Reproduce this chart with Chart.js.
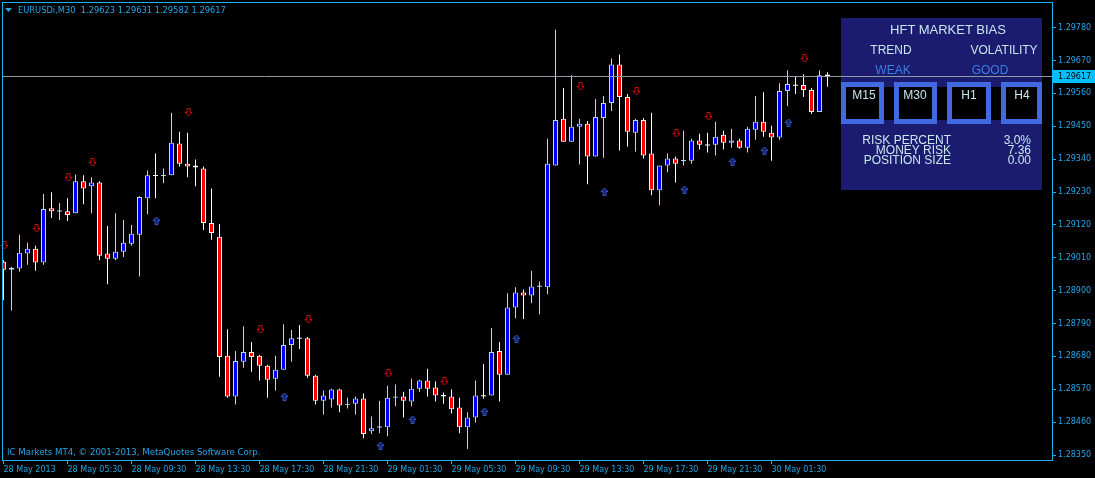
<!DOCTYPE html>
<html>
<head>
<meta charset="utf-8">
<script src="https://cdn.jsdelivr.net/npm/chart.js@4.4.0/dist/chart.umd.min.js"></script>
<style>
  html, body { margin: 0; padding: 0; background: #000; }
  #wrap { position: relative; width: 1095px; height: 478px; overflow: hidden; }
  .t { position: absolute; white-space: pre; line-height: 12px; }
  .mt { font-family: "DejaVu Sans", sans-serif; font-size: 8px; color: #27a5e6; }
  .pn { font-family: "Liberation Sans", Arial, sans-serif; font-size: 12px; color: #c8e6ee; }
  .c { text-align: center; width: 200px; }
  .r { text-align: right; width: 200px; }
</style>
</head>
<body>
<div id="wrap">
  <canvas id="myChart" width="1095" height="478"></canvas>
  <div class="t mt" style="left:18px;top:4px;font-size:8.3px;">EURUSDi,M30  1.29623 1.29631 1.29582 1.29617</div>
  <div class="t mt" style="left:7px;top:446px;font-size:8.6px;">IC Markets MT4, © 2001-2013, MetaQuotes Software Corp.</div>
  <div class="t pn c" style="left:848px;top:24px;font-size:13px;">HFT MARKET BIAS</div>
  <div class="t pn c" style="left:791px;top:44px;">TREND</div>
  <div class="t pn c" style="left:904px;top:44px;">VOLATILITY</div>
  <div class="t pn c" style="left:793px;top:64px;color:#3b7fe0;">WEAK</div>
  <div class="t pn c" style="left:890px;top:64px;color:#3b7fe0;">GOOD</div>
  <div class="t pn c" style="left:764px;top:89px;">M15</div>
  <div class="t pn c" style="left:815px;top:89px;">M30</div>
  <div class="t pn c" style="left:869px;top:89px;">H1</div>
  <div class="t pn c" style="left:922px;top:89px;">H4</div>
  <div class="t pn r" style="left:751px;top:134px;">RISK PERCENT</div>
  <div class="t pn r" style="left:751px;top:144px;">MONEY RISK</div>
  <div class="t pn r" style="left:751px;top:154px;">POSITION SIZE</div>
  <div class="t pn r" style="left:831px;top:134px;">3.0%</div>
  <div class="t pn r" style="left:831px;top:144px;">7.36</div>
  <div class="t pn r" style="left:831px;top:154px;">0.00</div>
</div>
<script>
// EURUSDi M30 candles, 28 May 01:30 .. 30 May 05:00
var opens = [1.28997,1.28970,1.28974,1.29024,1.29040,1.28994,1.29176,1.29166,1.29166,1.29159,
  1.29266,1.29249,1.29262,1.29024,1.29007,1.29030,1.29057,1.29087,1.29209,1.29286,
  1.29285,1.29286,1.29392,1.29325,1.29319,1.29309,1.29126,1.29080,1.28682,1.28546,
  1.28662,1.28695,1.28682,1.28649,1.28605,1.28635,1.28718,1.28741,1.28741,1.28615,
  1.28532,1.28536,1.28569,1.28519,1.28522,1.28539,1.28430,1.28443,1.28443,1.28542,
  1.28546,1.28529,1.28572,1.28599,1.28576,1.28552,1.28546,1.28509,1.28443,1.28476,
  1.28549,1.28549,1.28698,1.28619,1.28844,1.28894,1.28884,1.28914,1.28911,1.29319,
  1.29475,1.29398,1.29448,1.29458,1.29349,1.29478,1.29528,1.29657,1.29548,1.29428,
  1.29471,1.29359,1.29236,1.29319,1.29342,1.29335,1.29335,1.29402,1.29388,1.29388,
  1.29422,1.29395,1.29402,1.29378,1.29438,1.29465,1.29428,1.29412,1.29568,1.29588,
  1.29588,1.29571,1.29498,1.29623];
var highs = [1.29002,1.28980,1.29087,1.29060,1.29050,1.29223,1.29229,1.29193,1.29209,1.29289,
  1.29286,1.29279,1.29266,1.29116,1.29159,1.29136,1.29120,1.29216,1.29302,1.29359,
  1.29309,1.29495,1.29432,1.29428,1.29339,1.29315,1.29242,1.29123,1.28771,1.28698,
  1.28781,1.28728,1.28685,1.28652,1.28682,1.28788,1.28768,1.28785,1.28745,1.28619,
  1.28566,1.28572,1.28572,1.28542,1.28546,1.28556,1.28479,1.28532,1.28582,1.28586,
  1.28562,1.28605,1.28602,1.28639,1.28596,1.28559,1.28569,1.28542,1.28493,1.28599,
  1.28655,1.28775,1.28728,1.28891,1.28911,1.28904,1.28967,1.28931,1.29408,1.29773,
  1.29578,1.29621,1.29475,1.29468,1.29541,1.29551,1.29677,1.29690,1.29558,1.29475,
  1.29478,1.29495,1.29319,1.29359,1.29349,1.29435,1.29408,1.29425,1.29428,1.29465,
  1.29435,1.29442,1.29408,1.29448,1.29551,1.29564,1.29452,1.29594,1.29637,1.29617,
  1.29624,1.29578,1.29637,1.29631];
var lows = [1.28868,1.28834,1.28964,1.28987,1.28967,1.28987,1.29143,1.29136,1.29133,1.29159,
  1.29189,1.29159,1.29002,1.28921,1.29002,1.29013,1.29050,1.28947,1.29156,1.29209,
  1.29259,1.29286,1.29315,1.29279,1.29249,1.29103,1.29070,1.28612,1.28542,1.28519,
  1.28642,1.28629,1.28599,1.28542,1.28566,1.28635,1.28662,1.28705,1.28609,1.28519,
  1.28486,1.28509,1.28493,1.28506,1.28486,1.28406,1.28420,1.28423,1.28413,1.28513,
  1.28476,1.28513,1.28562,1.28546,1.28529,1.28522,1.28489,1.28423,1.28370,1.28459,
  1.28539,1.28549,1.28529,1.28619,1.28808,1.28805,1.28858,1.28821,1.28888,1.29319,
  1.29398,1.29398,1.29322,1.29256,1.29349,1.29345,1.29501,1.29369,1.29382,1.29365,
  1.29342,1.29219,1.29186,1.29296,1.29262,1.29319,1.29325,1.29372,1.29362,1.29352,
  1.29372,1.29378,1.29375,1.29362,1.29405,1.29415,1.29335,1.29405,1.29518,1.29558,
  1.29548,1.29491,1.29498,1.29582];
var closes = [1.28970,1.28977,1.29027,1.29040,1.28994,1.29173,1.29166,1.29167,1.29153,1.29266,
  1.29242,1.29262,1.29017,1.29007,1.29030,1.29060,1.29090,1.29213,1.29286,1.29285,
  1.29286,1.29395,1.29325,1.29315,1.29312,1.29126,1.29093,1.28678,1.28546,1.28665,
  1.28695,1.28678,1.28649,1.28602,1.28635,1.28718,1.28741,1.28740,1.28615,1.28532,
  1.28549,1.28569,1.28516,1.28520,1.28539,1.28420,1.28440,1.28444,1.28542,1.28546,
  1.28532,1.28572,1.28599,1.28572,1.28549,1.28546,1.28503,1.28443,1.28476,1.28549,
  1.28548,1.28695,1.28619,1.28844,1.28894,1.28884,1.28914,1.28915,1.29325,1.29471,
  1.29398,1.29448,1.29458,1.29349,1.29481,1.29528,1.29657,1.29548,1.29432,1.29471,
  1.29352,1.29236,1.29319,1.29342,1.29325,1.29336,1.29402,1.29388,1.29387,1.29415,
  1.29395,1.29402,1.29378,1.29442,1.29465,1.29432,1.29412,1.29568,1.29591,1.29587,
  1.29571,1.29498,1.29621,1.29617];

// one label every 8 bars
var timeLabels = ["28 May 2013","28 May 05:30","28 May 09:30","28 May 13:30","28 May 17:30","28 May 21:30",
  "29 May 01:30","29 May 05:30","29 May 09:30","29 May 13:30","29 May 17:30","29 May 21:30","30 May 01:30"];
var priceTicks = [1.28350,1.28460,1.28570,1.28680,1.28790,1.28900,1.29010,1.29120,1.29230,1.29340,1.29450,1.29560,1.29670,1.29780];

// signal arrows (bar index + price)
var sellIdx = [0,4,8,11,23,32,38,48,55,72,79,84,88,100];
var sellPrice = [1.29053,1.29110,1.29279,1.29332,1.29498,1.28771,1.28805,1.28625,1.28599,1.29584,1.29568,1.29428,1.29485,1.29677];
var buyIdx = [19,35,47,51,60,64,75,85,91,95,98];
var buyPrice = [1.29136,1.28549,1.28383,1.28469,1.28496,1.28741,1.29233,1.29239,1.29335,1.29372,1.29465];

var lastPrice = 1.29617;

var AXIS = '#1ab2f0', TXT = '#27a5e6';
var UP_LINE = '#b4dce6', DN_LINE = '#ffffff', UP_FILL = '#0000ff', DN_FILL = '#ff0000';

var wickData = [], bodyData = [];
for (var i = 0; i < opens.length; i++) {
  wickData.push({x: i, y: [lows[i], highs[i]]});
  var lo = Math.min(opens[i], closes[i]), hi = Math.max(opens[i], closes[i]);
  if (hi - lo < 0.00003) { var m = (hi + lo) / 2; lo = m - 0.0000166; hi = m + 0.0000166; }
  bodyData.push({x: i, y: [lo, hi]});
}
function isBull(i) { return closes[i] > opens[i]; }
function isDoji(i) { return Math.abs(closes[i] - opens[i]) < 0.00003; }

function drawArrow(ctx, x, y, down, stroke, fill) {
  ctx.save();
  ctx.translate(Math.round(x) + 0.5, Math.round(y) + 0.5);
  if (!down) ctx.scale(1, -1);
  ctx.beginPath();
  ctx.moveTo(-1.5, -4); ctx.lineTo(1.5, -4); ctx.lineTo(1.5, 0); ctx.lineTo(3.5, 0);
  ctx.lineTo(0, 3.5); ctx.lineTo(-3.5, 0); ctx.lineTo(-1.5, 0); ctx.closePath();
  ctx.fillStyle = fill; ctx.fill();
  ctx.strokeStyle = stroke; ctx.lineWidth = 1; ctx.stroke();
  ctx.restore();
}

var overlay = {
  id: 'overlay',
  afterDatasetsDraw: function(chart) {
    var ctx = chart.ctx, xs = chart.scales.x, ys = chart.scales.y;
    for (var k = 0; k < sellIdx.length; k++)
      drawArrow(ctx, xs.getPixelForValue(sellIdx[k]), ys.getPixelForValue(sellPrice[k]), true, '#e00000', '#000');
    for (k = 0; k < buyIdx.length; k++)
      drawArrow(ctx, xs.getPixelForValue(buyIdx[k]), ys.getPixelForValue(buyPrice[k]), false, '#2f52c0', '#15236a');

    // info panel
    ctx.save();
    ctx.fillStyle = '#1b1b6f';
    ctx.fillRect(841, 18, 201, 172);
    ctx.fillStyle = '#000';
    ctx.fillRect(841, 87, 201, 33);
    ctx.strokeStyle = '#4169e1'; ctx.lineWidth = 5;
    [[841, 884], [894, 937], [947, 991], [1001, 1042]].forEach(function(b) {
      ctx.strokeRect(b[0] + 2.5, 84.5, b[1] - b[0] - 5, 37);
    });
    ctx.restore();

    // current price line
    var py = Math.round(ys.getPixelForValue(lastPrice)) + 0.5;
    ctx.save();
    ctx.strokeStyle = '#8c98a4'; ctx.lineWidth = 1;
    ctx.beginPath(); ctx.moveTo(chart.chartArea.left, py); ctx.lineTo(chart.chartArea.right, py); ctx.stroke();
    ctx.restore();
  },
  afterDraw: function(chart) {
    var ctx = chart.ctx, ca = chart.chartArea, ys = chart.scales.y;
    ctx.save();
    ctx.strokeStyle = AXIS; ctx.lineWidth = 1;
    ctx.strokeRect(2.5, 2.5, ca.right - 2, 458);
    // header triangle
    ctx.fillStyle = TXT;
    ctx.beginPath(); ctx.moveTo(5, 8); ctx.lineTo(12, 8); ctx.lineTo(8.5, 12); ctx.closePath(); ctx.fill();
    // price label
    var py = Math.round(ys.getPixelForValue(lastPrice));
    ctx.fillStyle = '#00bfff';
    ctx.fillRect(1053, py - 6, 42, 13);
    ctx.fillStyle = '#000';
    ctx.font = '8px "DejaVu Sans"';
    ctx.textBaseline = 'middle';
    ctx.fillText(lastPrice.toFixed(5), 1058, py + 0.5);
    ctx.restore();
  }
};

new Chart(document.getElementById('myChart'), {
  type: 'bar',
  data: {
    datasets: [
      {
        label: 'body', data: bodyData, order: 1, grouped: false,
        barPercentage: 1, categoryPercentage: 1, maxBarThickness: 5,
        borderWidth: function(c) { return isDoji(c.dataIndex) ? 0 : 1; },
        borderSkipped: false, inflateAmount: 0,
        backgroundColor: function(c) {
          var i = c.dataIndex;
          if (isDoji(i)) return isBull(i) ? UP_LINE : DN_LINE;
          return isBull(i) ? UP_FILL : DN_FILL;
        },
        borderColor: function(c) { return isBull(c.dataIndex) ? UP_LINE : DN_LINE; }
      },
      {
        label: 'wick', data: wickData, order: 2, grouped: false,
        barPercentage: 0.125, categoryPercentage: 1, maxBarThickness: 1,
        borderWidth: 0, inflateAmount: 0,
        backgroundColor: function(c) { return isBull(c.dataIndex) ? UP_LINE : DN_LINE; }
      }
    ]
  },
  options: {
    responsive: false,
    animation: false,
    devicePixelRatio: 1,
    layout: { padding: { left: 2, top: 3, right: 0, bottom: 0 } },
    plugins: { legend: { display: false }, tooltip: { enabled: false } },
    scales: {
      x: {
        type: 'linear', min: -0.1875, max: 131.0625, offset: false,
        afterBuildTicks: function(s) { s.ticks = timeLabels.map(function(t, k) { return {value: k * 8}; }); },
        afterFit: function(s) { s.height = 18; },
        grid: { drawOnChartArea: false, offset: false, tickLength: 4, tickColor: AXIS, color: AXIS },
        border: { display: false },
        ticks: {
          autoSkip: false, maxRotation: 0, align: 'start', padding: 1, color: TXT,
          font: { family: 'DejaVu Sans', size: 8 },
          callback: function(v) { return timeLabels[Math.round(v / 8)]; }
        }
      },
      y: {
        position: 'right', min: 1.283334, max: 1.298497,
        afterBuildTicks: function(s) { s.ticks = priceTicks.map(function(v) { return {value: v}; }); },
        afterFit: function(s) { s.width = 43; },
        grid: { drawOnChartArea: false, tickLength: 4, tickColor: AXIS, color: AXIS },
        border: { display: false },
        ticks: {
          padding: 2, color: TXT,
          font: { family: 'DejaVu Sans', size: 8 },
          callback: function(v) { return v.toFixed(5); }
        }
      }
    }
  },
  plugins: [overlay]
});
</script>
</body>
</html>
